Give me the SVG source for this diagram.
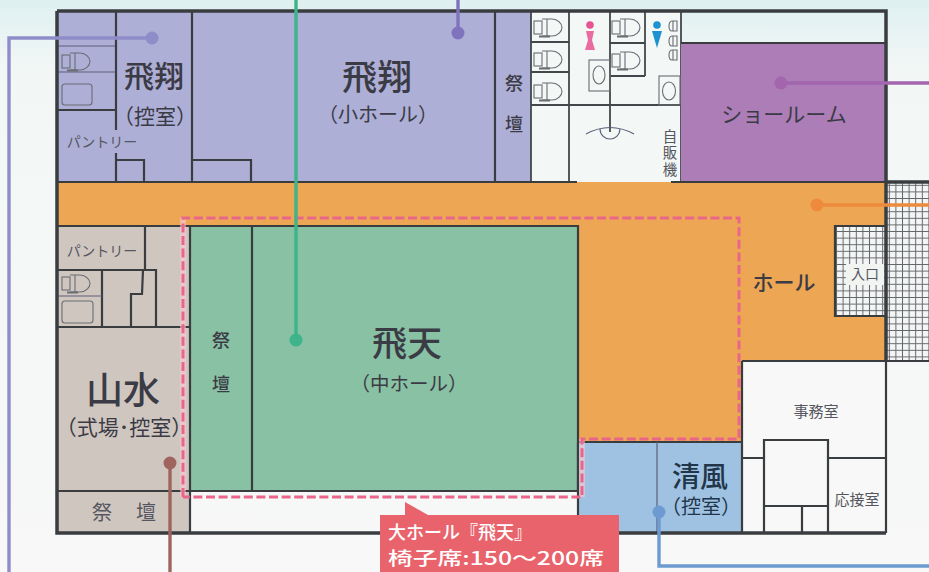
<svg xmlns="http://www.w3.org/2000/svg" width="929" height="572" viewBox="0 0 929 572">
<style>
text{font-family:"Noto Sans CJK JP","Noto Sans",sans-serif;fill:#3b3b46;text-anchor:middle}
.w{fill:none;stroke:#3a3d40;stroke-width:2.2}
.r{fill:none;stroke:#43474a;stroke-width:1.8}
.t{fill:none;stroke:#5d5f7a;stroke-width:1.2}
.o{fill:none;stroke:#6a6d72;stroke-width:1.1}
.c{fill:none;stroke-width:3.4}
.h{fill:none;stroke:#f6c9d2;stroke-width:5.500;opacity:.7}
.d{fill:none;stroke:#e9668a;stroke-width:3;stroke-dasharray:9 3.6}
.l{text-anchor:start;fill:#fff;font-weight:500}
.s{fill:#555660}
</style>
<defs>
<linearGradient id="bg" x1="0" y1="0" x2="0" y2="1"><stop offset="0" stop-color="#dff0f1"/><stop offset="0.12" stop-color="#f2f7f6"/><stop offset="1" stop-color="#f7f8f7"/></linearGradient>
<pattern id="grid" width="6.6" height="6.6" patternUnits="userSpaceOnUse" x="886" y="182"><rect width="6.6" height="6.6" fill="#f4f6f5"/><path d="M0 3.300H6.600M3.300 0V6.600" stroke="#65686b" stroke-width="1"/></pattern>
<g id="toilet"><rect x="0" y="3" width="8" height="13" class="o"/><path d="M8 1H18C24 1 28 6 28 9.500C28 13 24 18 18 18H8M13 1V18" class="o"/><rect x="5" y="17.500" width="11" height="2" fill="#6a6d72"/></g>
<g id="urinal"><path d="M9 0V10H4C0 10 0 0 4 0ZM5 0V10" class="o"/></g>
</defs>
<rect width="929" height="572" fill="url(#bg)"/>
<g id="entrance-plaza"><rect x="886" y="182" width="43" height="179" fill="url(#grid)"/></g>
<g id="room-hishou-hikae"><rect x="57" y="11" width="135" height="171" fill="#aeafd6"/>
<path class="t" d="M57 46H116M57 72H116"/><path class="w" d="M57 110H116M116 11V130M116 153V182M116 160H144V182"/>
<use href="#toilet" x="62" y="52"/><rect x="62" y="84" width="30" height="21" rx="3" class="o"/>
<text x="154" y="87" font-size="30" font-weight="500">飛翔</text><text x="155" y="124" font-size="21">（控室）</text><text x="102" y="147" font-size="14" class="s">パントリー</text></g>
<g id="room-hishou"><rect x="192" y="11" width="303" height="171" fill="#aeafd6"/><path class="w" d="M192 11V182M192 160H251V182"/>
<text x="377" y="90" font-size="35" font-weight="500">飛翔</text><text x="378" y="122" font-size="20">（小ホール）</text></g>
<g id="altar-hishou"><rect x="495" y="11" width="36" height="171" fill="#aeafd6"/><path class="w" d="M495 11V182"/><text x="514" y="90" font-size="18" font-weight="500">祭</text><text x="514" y="131" font-size="18" font-weight="500">壇</text></g>
<g id="restrooms"><rect x="531" y="11" width="150" height="171" fill="#f3f7f6"/>
<path class="r" d="M531 11V182M569 11V182M610 11V132M645 11V76M681 11V182M531 42H569M531 72H569M531 105H681M610 43H645M610 76H645"/>
<use href="#toilet" x="534" y="18"/><use href="#toilet" x="534" y="50"/><use href="#toilet" x="534" y="82"/><use href="#toilet" x="612" y="18"/><use href="#toilet" x="612" y="51"/>
<use href="#urinal" x="668" y="21"/><use href="#urinal" x="668" y="36"/><use href="#urinal" x="668" y="50"/>
<rect x="589" y="60" width="21" height="31" class="o"/><ellipse cx="599" cy="75" rx="6" ry="9" class="o"/><rect x="659" y="76" width="21" height="29" class="o"/><ellipse cx="669" cy="91" rx="6.500" ry="9" class="o"/>
<path class="t" stroke-width="1.500" d="M586 134Q610 121 634 134"/><path class="t" d="M600 129A10 10 0 0 0 620 129"/>
<circle cx="590" cy="25" r="3.800" fill="#e8548f"/><path d="M586 31H594L592 40L595 50H585L588 40Z" fill="#ea6ba0"/>
<circle cx="657" cy="25" r="3.800" fill="#1c93d0"/><path d="M652 31H662L657 48Z" fill="#1c93d0"/>
<text x="670" y="129" font-size="14.500" class="s" style="writing-mode:vertical-rl;text-anchor:start;letter-spacing:2px">自販機</text></g>
<g id="room-showroom"><rect x="681" y="43" width="205" height="139" fill="#ad7db8"/><path class="w" d="M681 43H886"/><text x="784" y="122" font-size="21" fill="#3d2a4a">ショールーム</text></g>
<g id="hall"><path d="M57 182H886V361H742V441H578V226H57Z" fill="#eda654"/><rect x="835" y="226" width="51" height="90" fill="url(#grid)"/><path class="w" d="M886 226H835V316H886"/><rect x="846" y="264" width="38" height="21" fill="#f2f4f2"/><text x="865" y="279" font-size="14" class="s">入口</text><text x="784" y="290" font-size="21" fill="#3f2c14" font-weight="500">ホール</text></g>
<g id="room-hiten"><rect x="190" y="226" width="388" height="265" fill="#88c1a3"/><path class="w" stroke="#2c4a3c" d="M190 226H578V491H190M252 226V491"/>
<text x="221" y="347" font-size="18" fill="#23483a" font-weight="500">祭</text><text x="221" y="391" font-size="18" fill="#23483a" font-weight="500">壇</text><text x="407" y="356" font-size="35" fill="#222c2a" font-weight="500">飛天</text><text x="409" y="391" font-size="19.500" fill="#2e4a42">（中ホール）</text></g>
<g id="room-sansui"><rect x="57" y="226" width="133" height="307" fill="#cfc6c0"/>
<path class="w" d="M145 226V270M57 270H156V327M102 270V327M57 327H190M57 491H190M190 226V533M143 270L142 294H131V327"/><path class="t" d="M57 296H102"/>
<use href="#toilet" x="62" y="274"/><rect x="62" y="301" width="31" height="22" rx="3" class="o"/>
<text x="102" y="256" font-size="14" class="s">パントリー</text><text x="123" y="404" font-size="37" font-weight="500">山水</text><text x="124" y="435" font-size="21">（式場･控室）</text><text x="102" y="520" font-size="20" class="s">祭</text><text x="146" y="520" font-size="20" class="s">壇</text></g>
<g id="room-seifu"><rect x="578" y="442" width="164" height="91" fill="#a0c2e2"/><path class="w" d="M578 442H742M578 442V533"/><path class="t" d="M657 442V533"/><text fill="#22364a"><tspan x="700" y="487" font-size="28" font-weight="500" fill="#22364a">清風</tspan><tspan x="701" y="514" font-size="20" fill="#22364a">（控室）</tspan></text></g>
<g id="room-office"><rect x="742" y="361" width="144" height="172" fill="#f7f8f7"/><path class="w" d="M742 361V533M742 361H929M886 361V533M764 458H742M829 458H886M764 533V440H828V533M764 506H828M802 506V533"/><text x="816" y="417" font-size="15" class="s">事務室</text><text x="857" y="505" font-size="15" class="s">応接室</text></g>
<g id="walls"><path d="M57 11H886V182M886 182H929M886 182V361M57 11V533H886" fill="none" stroke="#3a3d40" stroke-width="3.500"/><path class="w" d="M57 182H577M671 182H886M57 226H190"/></g>
<g id="hall-extent"><path class="h" d="M183 497V218M582 439V497"/><path class="d" d="M183 497V218H739V439H582V497H183" stroke-linejoin="miter"/></g>
<g id="callout"><path d="M380 515H405V502L428 515H619V572H380Z" fill="#e8636b"/><text class="l" font-size="18"><tspan x="388" y="539">大ホール『飛天』</tspan><tspan x="388" y="565" textLength="216" lengthAdjust="spacingAndGlyphs">椅子席:150～200席</tspan></text></g>
<g id="connectors">
<path class="c" stroke="#8f8dc9" d="M152 38H9V572"/><circle cx="152" cy="38" r="6.500" fill="#8f8dc9"/>
<path class="c" stroke="#7f73bd" d="M458 33V0"/><circle cx="458" cy="33" r="6.500" fill="#7f73bd"/>
<path class="c" stroke="#3db489" d="M296 340V0"/><circle cx="296" cy="340" r="6.500" fill="#3db489"/>
<path class="c" stroke="#a265ae" d="M781 83H929"/><circle cx="781" cy="83" r="6.500" fill="#a265ae"/>
<path class="c" stroke="#ee8a3c" d="M817 205H929"/><circle cx="817" cy="205" r="6.500" fill="#ee8a3c"/>
<path class="c" stroke="#a0645f" d="M170 463V572"/><circle cx="170" cy="463" r="6.500" fill="#a0645f"/>
<path class="c" stroke="#6e9ad2" d="M659 512V566H929"/><circle cx="659" cy="512" r="6.500" fill="#6e9ad2"/>
</g>
</svg>
